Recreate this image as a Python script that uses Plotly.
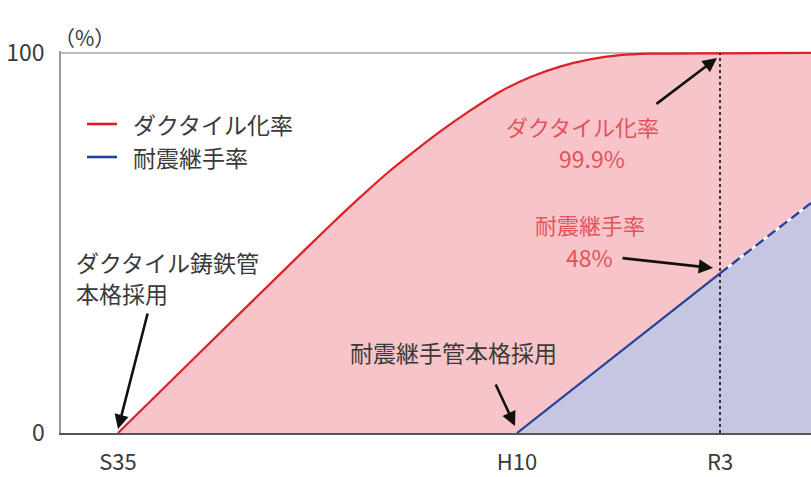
import plotly.graph_objects as go

# ---- data (schematic time axis units) ----
tick_pos = [5.7, 45.6, 65.9]
tick_text = ["S35", "H10", "R3"]

ductile_x = [5.7, 13.9, 21.9, 26.9, 29.9, 32.9, 35.9, 37.9, 40.9, 43.9, 46.9, 49.9, 52.9, 55.9, 58.9, 65.9, 75.0]
ductile_y = [0, 21.2, 41.8, 54.6, 62.0, 69.0, 75.3, 79.3, 84.8, 89.8, 93.6, 96.4, 98.3, 99.4, 99.8, 99.9, 100]

quake_x = [45.6, 65.9]
quake_y = [0, 42]
quake_future_x = [65.9, 75.0]
quake_future_y = [42, 60.5]

legend_names = ["ダクタイル化率", "耐震継手率"]

W, H = 811, 477
L, R, T, B = 61, 0, 51, 44
XR = [0, 75]
YR = [0, 100.5]

def px2x(px):
    return XR[0] + (px - L) / (W - L - R) * (XR[1] - XR[0])

def py2y(py):
    return YR[0] + (H - B - py) / (H - B - T) * (YR[1] - YR[0])

def px2paper(px):
    return (px - L) / (W - L - R)

def py2paper(py):
    return (H - B - py) / (H - B - T)

FONT = "Noto Sans CJK JP"
RED_L = "#e01e25"
BLUE_L = "#26409a"
RED_T = "#e3525b"
GRAY_T = "#3a3a3a"

fig = go.Figure()
fig.add_trace(go.Scatter(x=ductile_x, y=ductile_y, mode="lines",
                         line=dict(color=RED_L, width=2.2, shape="spline", smoothing=0.6),
                         fill="tozeroy", fillcolor="#f7c5c9", showlegend=False, hoverinfo="skip"))
fig.add_trace(go.Scatter(x=quake_x + quake_future_x[1:], y=quake_y + quake_future_y[1:], mode="none",
                         fill="tozeroy", fillcolor="#c6c6e1", showlegend=False, hoverinfo="skip"))
fig.add_trace(go.Scatter(x=quake_x, y=quake_y, mode="lines", line=dict(color=BLUE_L, width=2.2),
                         showlegend=False, hoverinfo="skip"))
fig.add_trace(go.Scatter(x=quake_future_x, y=quake_future_y, mode="lines", line=dict(color="white", width=2.4),
                         showlegend=False, hoverinfo="skip"))
fig.add_trace(go.Scatter(x=quake_future_x, y=quake_future_y, mode="lines",
                         line=dict(color=BLUE_L, width=2.4, dash="10px,5px"),
                         showlegend=False, hoverinfo="skip"))

fig.add_shape(type="line", x0=tick_pos[2], x1=tick_pos[2], y0=0, y1=100, xref="x", yref="y",
              line=dict(color="#222", width=1.8, dash="dot"), layer="above")

# manual legend
for name, col, py in zip(legend_names, [RED_L, BLUE_L], [124, 157]):
    fig.add_shape(type="line", xref="paper", yref="paper", x0=px2paper(87), x1=px2paper(117),
                  y0=py2paper(py), y1=py2paper(py), line=dict(color=col, width=2.6))
    fig.add_annotation(x=px2paper(131), y=py2paper(py), xref="paper", yref="paper", text=name,
                       showarrow=False, xanchor="left", yanchor="middle",
                       font=dict(family=FONT, size=23, color=GRAY_T))

def text(px, py, s, color, size=23, xanchor="center"):
    fig.add_annotation(x=px2x(px), y=py2y(py), text=s, showarrow=False, xanchor=xanchor, yanchor="middle",
                       font=dict(family=FONT, size=size, color=color))

def arrow(tail, tip):
    fig.add_annotation(x=px2x(tip[0]), y=py2y(tip[1]), ax=tail[0] - tip[0], ay=tail[1] - tip[1],
                       axref="pixel", ayref="pixel", text="", showarrow=True,
                       arrowhead=2, arrowsize=1.1, arrowwidth=2.6, arrowcolor="#111")

text(74, 262, "ダクタイル鋳鉄管", GRAY_T, xanchor="left")
text(74, 293, "本格採用", GRAY_T, xanchor="left")
text(453, 352, "耐震継手管本格採用", GRAY_T)
text(582, 126, "ダクタイル化率", RED_T, size=22)
text(592, 158, "99.9%", RED_T, size=23)
text(590, 224, "耐震継手率", RED_T, size=22)
text(589, 257, "48%", RED_T, size=23)
fig.add_annotation(x=px2paper(52), y=py2paper(20), xref="paper", yref="paper", text="（%）",
                   showarrow=False, font=dict(family=FONT, size=21, color=GRAY_T))

arrow((148, 312), (118, 429))
arrow((495, 383), (515, 426))
arrow((655, 105), (717, 58))
arrow((621, 258), (713, 268))

fig.update_layout(
    width=W, height=H, margin=dict(l=L, r=R, t=T, b=B, autoexpand=False),
    paper_bgcolor="white", plot_bgcolor="white", showlegend=False,
    font=dict(family=FONT, size=23, color=GRAY_T),
    xaxis=dict(range=XR, tickvals=tick_pos, ticktext=tick_text, showgrid=False, zeroline=False,
               automargin=False,
               showline=True, linecolor="#555", linewidth=2.2, ticks="outside", ticklen=8,
               tickcolor="rgba(0,0,0,0)", tickfont=dict(family=FONT, size=22, color=GRAY_T)),
    yaxis=dict(range=YR, tickvals=[0, 100], ticktext=["0", "100"], showgrid=True, gridcolor="#bbbbbb",
               automargin=False,
               gridwidth=1.5, zeroline=False, showline=True, linecolor="#999", linewidth=1.5,
               ticks="outside", ticklen=10, tickcolor="rgba(0,0,0,0)",
               tickfont=dict(family=FONT, size=23, color=GRAY_T)),
)
fig.write_html("out.html", config={"displayModeBar": False},
               post_script="document.body.style.margin='0';document.body.style.overflow='hidden';")
